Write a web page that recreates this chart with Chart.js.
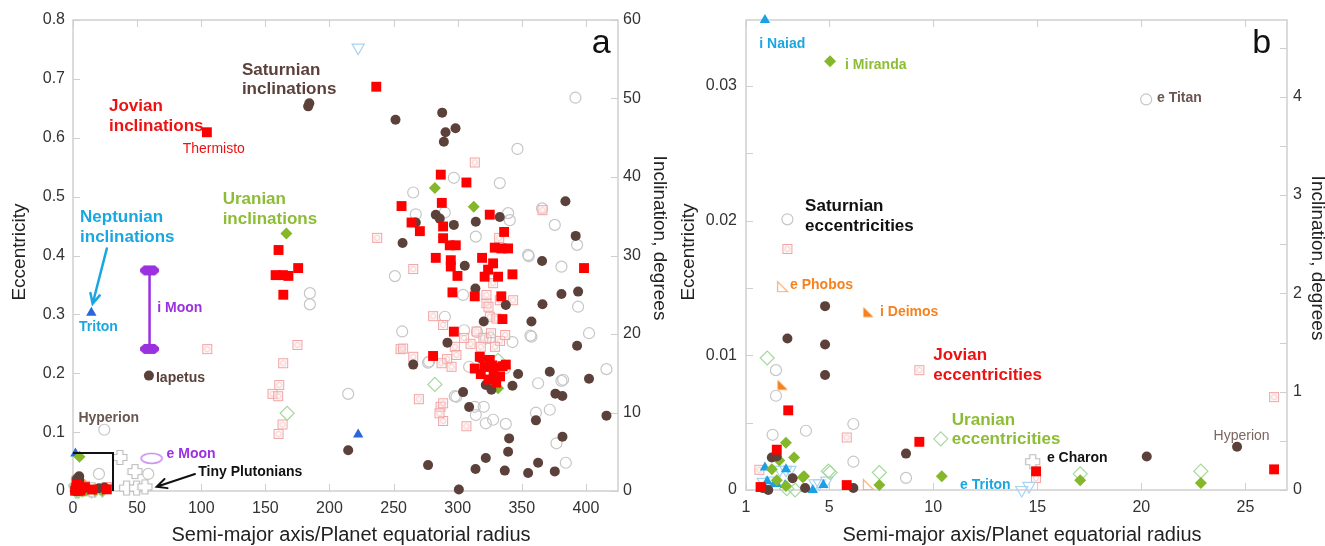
<!DOCTYPE html>
<html>
<head>
<meta charset="utf-8">
<script src="https://cdn.jsdelivr.net/npm/chart.js@4"></script>
<style>
    html, body { margin: 0; padding: 0; background: #fff; }
    #wrap { position: relative; width: 1325px; height: 546px; }
    #chart-a { position: absolute; left: 0; top: 0; }
    #chart-b { position: absolute; left: 680px; top: 0; }
</style>
</head>
<body>
<div id="wrap">
    <canvas id="chart-a" width="680" height="546"></canvas>
    <canvas id="chart-b" width="645" height="546"></canvas>
</div>
<script>
var FONT = "'Liberation Sans', Arial, sans-serif";

// [semi-major axis / planet radius, inclination in degrees]
var jovianIncl = [[104.4,45.7],[236.5,51.5],[160.3,30.7],[175.6,28.4],[158,27.5],[163.7,27.5],[168,27.4],[164,25],
    [286.8,40.3],[306.8,39.3],[256.2,36.3],[287.6,36.7],[325,35.2],[264,34.2],[270.5,33.1],[288.6,33.7],[336.2,33],
    [288.6,32.2],[293.8,31.3],[298.5,31.3],[328.9,31],[334.1,30.9],[339.3,30.9],[282.9,29.7],[294.6,29.4],[294.6,28.6],
    [319,29.7],[327.6,29],[398.5,28.4],[342.7,27.6],[299.8,27.4],[321,27.3],[331.5,27.3],[323.7,28.2],[295.9,25.3],
    [313.3,24.8],[334,24.8],[334.9,21.9],[297,20.3],[280.8,17.2],[317.2,17.1],[325,16.7],[337.5,16.1],[313.3,15.6],
    [321,15.8],[328,15.2],[333,14.6],[324,14.2],[330,13.8],[318,14.9],[335,15.9],[327,16],
    [3.03,0.81],[2.48,0.41],[5.84,0.05],[9.33,0.49],[14.94,0.19],[26.38,0.21],[1.7,0.03]];

// [semi-major axis / planet radius, eccentricity]
var jovianEcc = [[104.7,0.241],[175,0.248],[163.9,0.217],[160.8,0.18],[155.6,0.165],[160,0.161],[163.4,0.113],[160.3,0.097],
    [237.2,0.43],[265.3,0.377],[280.8,0.297],[255.4,0.241],[269.7,0.156],[288.6,0.282],[286.6,0.143],[288.6,0.119],
    [291.7,0.224],[313.3,0.558],[332.3,0.43],[366.1,0.477],[306.8,0.11],[327.6,0.353],[343.2,0.324],[322.4,0.319],
    [297.7,0.245],[299,0.231],[287.4,0.217],[295.2,0.211],[314.7,0.271],[324,0.313],[332.8,0.324],[322.4,0.333],
    [325,0.296],[330.2,0.293],[265.3,0.228],[257.4,0.242],[288.6,0.149],[285.8,0.132],[320,0.26],[326,0.268],
    [333,0.255],[318,0.245],[329,0.245],[337,0.265],[310,0.25],[305,0.26],
    [9.33,0.0089],[5.84,0.0039],[26.38,0.0069],[14.94,0.0009],[1.64,0.0015],[2.99,0.0179]];

var saturnIncl = [[183.4,49],[184.3,49.4],[251.5,47.3],[287.9,48.2],[290.5,45.7],[298.3,46.2],[289.2,44.5],[384,36.9],
    [392,32.5],[257,31.6],[267.3,34.2],[282.9,35.2],[286,34.7],[297,33.9],[314.1,34.3],[332.8,34.9],[305.5,28.7],
    [365.8,29.3],[313.8,25.8],[337.5,23.7],[366.1,23.8],[380.9,25.1],[393.9,25.4],[320.3,21.6],[357.5,21.6],[393.1,18.5],
    [292,18.9],[265.3,16.1],[318,16.9],[328.9,15.8],[328.9,14.2],[321.9,13.5],[326.3,12.9],[347.1,14.9],[342.7,13.4],
    [371.8,15.2],[402.4,14.3],[304.2,12.6],[376.2,12.4],[381.6,12.1],[308.9,10.7],[361,9],[416,9.6],[340.1,6.7],
    [381.7,6.9],[339.3,5],[321.9,4.2],[362.7,3.6],[276.9,3.3],[313.9,2.8],[336.7,2.6],[354.9,2.3],[375.7,2.5],
    [300.9,0.2],[214.6,5.2],[59.2,14.7],
    [4.8,1.87],[4.8,1.48],[4.8,1.17],[2.99,1.54],[8.69,0.37],[6.16,0.02],[3.84,0.02],[3.24,0.12],[2.24,0.33],
    [2.48,0.34],[1.8,0.02],[20.26,0.34],[24.6,0.44],[2.07,0]];

var saturnEcc = [[24.4,0.104],[58.7,0.029],[184.7,0.336],[184.7,0.317],[251,0.365],[214.6,0.165],[256.7,0.271],
    [276.9,0.218],[290,0.296],[297.7,0.161],[265.3,0.507],[267.3,0.47],[297,0.532],[391.8,0.668],[346.6,0.581],
    [332.8,0.523],[289.9,0.473],[339.3,0.472],[340.6,0.46],[365.8,0.48],[375.7,0.452],[314.1,0.432],[393.1,0.418],
    [355.4,0.399],[380.9,0.381],[393.9,0.313],[304.2,0.333],[305,0.273],[321.9,0.259],[342.7,0.253],[356.7,0.264],
    [402.4,0.268],[416,0.207],[380.9,0.187],[362.7,0.183],[277.7,0.22],[308.9,0.211],[336.7,0.208],[299,0.16],
    [320.3,0.143],[314.1,0.129],[371.8,0.138],[361,0.133],[327.6,0.121],[321.9,0.115],[337.5,0.114],[377,0.081],
    [384.3,0.048],[354.9,0.401],[357.5,0.262],[382.2,0.189],[313.3,0.143],[325,0.26],[315,0.27],
    [2.99,0.0201],[2.44,0.0089],[2.44,0.007],[2.28,0.0041],[3.88,0.0044],[6.16,0.0049],[6.16,0.0021],[8.69,0.0009],
    [20.23,0.029]];

var uranusIncl = [[166.4,32.8],[282.2,38.6],[312.5,36.2],[331.5,13.1],
    [5.04,4.36],[2.92,0.48],[3.31,0.33],[3.79,0.14],[2.6,0.3],[2.92,0.04],[7.41,0.05],[10.41,0.14],[17.06,0.1],
    [22.86,0.07],[2.24,0.21],[2.48,0.1],[3.73,0.13]];

var uranusEcc = [[167,0.132],[282.2,0.181],[331.5,0.222],
    [2.02,0.0098],[5.04,0.0013],[7.41,0.0013],[10.36,0.0038],[17.06,0.0012],[22.86,0.0014],[3.36,0],[4.96,0.0014],
    [2.96,0.0001]];

var neptuneIncl = [[14.3,22.7],[222.4,7.2],
    [1.91,4.78],[1.91,0.23],[2.92,0.21],[2.02,0.09],[2.48,0.06],[4.21,0],[4.72,0.05],[2.39,0.07],[2.88,0.05]];

var neptuneEcc = [[222.4,0.753],
    [1.96,0.0003],[2.92,0.0015],[4.52,0.0005],[4.88,0.0007],[14.25,0],[1.83,0.0006],[2.24,0.0007],[2.63,0.0015],
    [3.12,0.0015],[4.32,0.0005],[14.6,0.0003]];

var marsIncl = [[2.76,1.07],[6.88,1.81]];
var marsEcc = [[2.76,0.0151],[6.88,0.0004]];

var plutoEcc = [[36.6,0.057],[48.3,0.033],[41.8,0.005],[49.6,0.005],[56.1,0.007],[14.78,0.0021]];

var moonIncl = [[59.7,18.1],[59.7,28.1]];
var moonEcc = [[61.3,0.0555]];

// axis ticks
var xTicksA = [0, 50, 100, 150, 200, 250, 300, 350, 400];
var eccTicksA = [0, 0.1, 0.2, 0.3, 0.4, 0.5, 0.6, 0.7, 0.8];
var eccLabelsA = ['0', '0.1', '0.2', '0.3', '0.4', '0.5', '0.6', '0.7', '0.8'];
var incTicksA = [0, 10, 20, 30, 40, 50, 60];

var xTicksB = [1, 5, 10, 15, 20, 25];
var eccTicksB = [0, 0.005, 0.01, 0.015, 0.02, 0.025, 0.03];
var eccLabelsB = ['0', '', '0.01', '', '0.02', '', '0.03'];
var incTicksB = [0, 0.5, 1, 1.5, 2, 2.5, 3, 3.5, 4, 4.5];
var incLabelsB = ['0', '', '1', '', '2', '', '3', '', '4', ''];

function pts(arr){
    return arr.map(function(p){ return {x: p[0], y: p[1]}; });
}

function makeMarker(w, h, draw){
    var c = document.createElement('canvas');
    c.width = w;
    c.height = h;
    draw(c.getContext('2d'));
    return c;
}

var pinkBox = makeMarker(12, 12, function(ctx){
    ctx.fillStyle = 'rgba(255,235,235,0.4)';
    ctx.fillRect(1.5, 1.5, 9, 9);
    ctx.strokeStyle = '#f2a4a4';
    ctx.lineWidth = 1;
    ctx.strokeRect(1.5, 1.5, 9, 9);
    ctx.fillStyle = '#f2a4a4';
    for (var k = 0; k < 8; k++) {
        var a = k * Math.PI / 4;
        ctx.fillRect(6 + 2.6 * Math.cos(a) - 0.5, 6 + 2.6 * Math.sin(a) - 0.5, 1, 1);
    }
});

var plutoCross = makeMarker(17, 17, function(ctx){
    var p = [[5.5,1.5],[11.5,1.5],[11.5,5.5],[15.5,5.5],[15.5,11.5],[11.5,11.5],[11.5,15.5],[5.5,15.5],[5.5,11.5],[1.5,11.5],[1.5,5.5],[5.5,5.5]];
    ctx.beginPath();
    ctx.moveTo(p[0][0], p[0][1]);
    for (var i = 1; i < p.length; i++) ctx.lineTo(p[i][0], p[i][1]);
    ctx.closePath();
    ctx.fillStyle = '#fff';
    ctx.fill();
    ctx.strokeStyle = '#bdbdbd';
    ctx.lineWidth = 1.2;
    ctx.stroke();
});

var moonCap = makeMarker(21, 12, function(ctx){
    ctx.beginPath();
    ctx.moveTo(5, 1); ctx.lineTo(16, 1); ctx.lineTo(20, 4.5); ctx.lineTo(20, 7.5);
    ctx.lineTo(16, 11); ctx.lineTo(5, 11); ctx.lineTo(1, 7.5); ctx.lineTo(1, 4.5);
    ctx.closePath();
    ctx.fillStyle = '#9b30e0';
    ctx.fill();
});

var moonRing = makeMarker(24, 13, function(ctx){
    ctx.beginPath();
    ctx.ellipse(12, 6.5, 10.5, 5, 0, 0, Math.PI * 2);
    ctx.strokeStyle = '#c58af0';
    ctx.lineWidth = 1.5;
    ctx.stroke();
});

function marsMarker(filled){
    return makeMarker(13, 13, function(ctx){
        ctx.beginPath();
        ctx.moveTo(1.5, 1.5); ctx.lineTo(1.5, 11.5); ctx.lineTo(11.5, 11.5);
        ctx.closePath();
        if (filled) {
            ctx.fillStyle = '#f5821f';
            ctx.fill();
        } else {
            ctx.strokeStyle = '#f6b07a';
            ctx.lineWidth = 1.2;
            ctx.stroke();
        }
    });
}
var marsFilled = marsMarker(true);
var marsOpen = marsMarker(false);

// panel a draws the Neptunian triangles a deeper blue than panel b
function neptuneBlue(c){
    return c.chart.canvas.id === 'chart-a' ? '#2a66dc' : '#1aa0e6';
}

function buildDatasets(){
    return [
        {label: 'Jovian inclinations', data: pts(jovianIncl), yAxisID: 'y2', pointStyle: 'rect', pointRadius: 7,
            pointBackgroundColor: '#ff0000', pointBorderWidth: 0},
        {label: 'Saturnian inclinations', data: pts(saturnIncl), yAxisID: 'y2', pointStyle: 'circle', pointRadius: 5,
            pointBackgroundColor: '#5b4139', pointBorderWidth: 0},
        {label: 'Uranian inclinations', data: pts(uranusIncl), yAxisID: 'y2', pointStyle: 'rectRot', pointRadius: 6,
            pointBackgroundColor: '#84b82a', pointBorderWidth: 0},
        {label: 'Neptunian inclinations', data: pts(neptuneIncl), yAxisID: 'y2', pointStyle: 'triangle', pointRadius: 6,
            pointBackgroundColor: neptuneBlue, pointBorderWidth: 0},
        {label: 'Martian inclinations', data: pts(marsIncl), yAxisID: 'y2', pointStyle: marsFilled},
        {label: 'Martian eccentricities', data: pts(marsEcc), yAxisID: 'y', pointStyle: marsOpen},
        {label: 'Moon inclination', type: 'line', showLine: true, data: pts(moonIncl), yAxisID: 'y2',
            borderColor: '#9b30e0', borderWidth: 2.5, pointStyle: moonCap},
        {label: 'Moon eccentricity', data: pts(moonEcc), yAxisID: 'y', pointStyle: moonRing},
        {label: 'Plutonian eccentricities', data: pts(plutoEcc), yAxisID: 'y', pointStyle: plutoCross},
        {label: 'Uranian eccentricities', data: pts(uranusEcc), yAxisID: 'y', pointStyle: 'rectRot', pointRadius: 7,
            pointBackgroundColor: 'rgba(255,255,255,0)', pointBorderColor: '#a6d89e', pointBorderWidth: 1.2},
        {label: 'Neptunian eccentricities', data: pts(neptuneEcc), yAxisID: 'y', pointStyle: 'triangle', pointRadius: 7,
            pointRotation: 180, pointBackgroundColor: 'rgba(255,255,255,0)', pointBorderColor: '#a9d3f2', pointBorderWidth: 1.2},
        {label: 'Jovian eccentricities', data: pts(jovianEcc), yAxisID: 'y', pointStyle: pinkBox},
        {label: 'Saturnian eccentricities', data: pts(saturnEcc), yAxisID: 'y', pointStyle: 'circle', pointRadius: 5.5,
            pointBackgroundColor: 'rgba(255,255,255,0)', pointBorderColor: '#c6c6c6', pointBorderWidth: 1.2}
    ].map(function(d){
        d.clip = 10;
        return d;
    });
}

function tickedAxis(opts){
    return {
        type: 'linear',
        position: opts.position,
        min: opts.min,
        max: opts.max,
        afterFit: function(s){
            if (s.isHorizontal()) s.height = opts.size; else s.width = opts.size;
        },
        afterBuildTicks: function(s){
            s.ticks = opts.ticks.map(function(v){ return {value: v}; });
        },
        grid: {display: false, drawTicks: false},
        border: {display: false},
        ticks: {
            padding: opts.padding,
            autoSkip: false,
            maxRotation: 0,
            color: '#333',
            font: {size: 16, family: FONT},
            callback: function(value, index){
                return opts.labels ? opts.labels[index] : String(value);
            }
        }
    };
}

function drawText(ctx, chart, l){
    var px = chart.scales.x.getPixelForValue(l.x);
    var py = chart.scales[l.axis || 'y'].getPixelForValue(l.y);
    ctx.font = (l.bold === false ? '' : 'bold ') + (l.size || 14) + 'px ' + FONT;
    ctx.fillStyle = l.color;
    ctx.textAlign = 'left';
    ctx.textBaseline = l.baseline || 'middle';
    l.text.split('\n').forEach(function(t, i){
        ctx.fillText(t, px, py + i * (l.lh || 20));
    });
}

function drawArrow(ctx, chart, a){
    var xs = chart.scales.x, ys = chart.scales.y;
    var x0 = xs.getPixelForValue(a.from[0]), y0 = ys.getPixelForValue(a.from[1]);
    var x1 = xs.getPixelForValue(a.to[0]), y1 = ys.getPixelForValue(a.to[1]);
    var ang = Math.atan2(y1 - y0, x1 - x0);
    ctx.strokeStyle = a.color;
    ctx.lineWidth = a.width;
    ctx.lineCap = 'round';
    ctx.beginPath();
    ctx.moveTo(x0, y0);
    ctx.lineTo(x1, y1);
    ctx.moveTo(x1 - 11 * Math.cos(ang - 0.45), y1 - 11 * Math.sin(ang - 0.45));
    ctx.lineTo(x1, y1);
    ctx.lineTo(x1 - 11 * Math.cos(ang + 0.45), y1 - 11 * Math.sin(ang + 0.45));
    ctx.stroke();
}

var decorPlugin = {
    id: 'decor',
    beforeDatasetsDraw: function(chart){
        var ctx = chart.ctx, area = chart.chartArea, len = 7;
        ctx.save();
        ctx.strokeStyle = '#cfcfcf';
        ctx.lineWidth = 1.5;
        ctx.strokeRect(area.left, area.top, area.right - area.left, area.bottom - area.top);
        ctx.lineWidth = 1;
        ctx.beginPath();
        chart.scales.x.ticks.forEach(function(t){
            var p = Math.round(chart.scales.x.getPixelForValue(t.value)) + 0.5;
            ctx.moveTo(p, area.bottom); ctx.lineTo(p, area.bottom - len);
            ctx.moveTo(p, area.top); ctx.lineTo(p, area.top + len);
        });
        chart.scales.y.ticks.forEach(function(t){
            var p = Math.round(chart.scales.y.getPixelForValue(t.value)) + 0.5;
            ctx.moveTo(area.left, p); ctx.lineTo(area.left + len, p);
        });
        chart.scales.y2.ticks.forEach(function(t){
            var p = Math.round(chart.scales.y2.getPixelForValue(t.value)) + 0.5;
            ctx.moveTo(area.right, p); ctx.lineTo(area.right - len, p);
        });
        ctx.stroke();
        ctx.restore();
    },
    afterDatasetsDraw: function(chart, args, opts){
        var ctx = chart.ctx;
        ctx.save();
        if (opts.box) {
            var xs = chart.scales.x, ys = chart.scales.y;
            var bx = xs.getPixelForValue(opts.box[0]), by = ys.getPixelForValue(opts.box[1]);
            ctx.strokeStyle = '#111';
            ctx.lineWidth = 2;
            ctx.beginPath();
            ctx.moveTo(chart.chartArea.left, by);
            ctx.lineTo(bx, by);
            ctx.lineTo(bx, chart.chartArea.bottom);
            ctx.stroke();
        }
        (opts.arrows || []).forEach(function(a){ drawArrow(ctx, chart, a); });
        (opts.labels || []).forEach(function(l){ drawText(ctx, chart, l); });
        ctx.restore();
    },
    afterDraw: function(chart, args, opts){
        var ctx = chart.ctx, t = opts.titles;
        ctx.save();
        ctx.fillStyle = '#222';
        ctx.textAlign = 'center';
        ctx.textBaseline = 'alphabetic';
        ctx.font = '20px ' + FONT;
        ctx.fillText('Semi-major axis/Planet equatorial radius', t.bottomX, 541);
        ctx.font = '19px ' + FONT;
        ctx.save();
        ctx.translate(t.leftX, t.leftY);
        ctx.rotate(-Math.PI / 2);
        ctx.fillText('Eccentricity', 0, 0);
        ctx.restore();
        ctx.translate(t.rightX, t.rightY);
        ctx.rotate(Math.PI / 2);
        ctx.fillText('Inclination, degrees', 0, 0);
        ctx.restore();
    }
};

function baseOptions(scales, decor){
    return {
        responsive: false,
        animation: false,
        devicePixelRatio: 1,
        layout: {padding: {top: 20, left: 0, right: 0, bottom: 0}},
        scales: scales,
        elements: {point: {hoverRadius: 0}},
        plugins: {
            legend: {display: false},
            tooltip: {enabled: false},
            decor: decor
        }
    };
}

function panelA(){
    var scales = {
        x: tickedAxis({position: 'bottom', min: 0, max: 425, size: 55, ticks: xTicksA, padding: 8}),
        y: tickedAxis({position: 'left', min: 0, max: 0.8, size: 73, ticks: eccTicksA, labels: eccLabelsA, padding: 8}),
        y2: tickedAxis({position: 'right', min: 0, max: 60, size: 62, ticks: incTicksA, padding: 5})
    };
    var decor = {
        titles: {bottomX: 351, leftX: 25, leftY: 252, rightX: 654, rightY: 238},
        box: [31.2, 0.0645],
        arrows: [
            {from: [26.4, 0.412], to: [15.3, 0.318], color: '#1aa7e1', width: 2.5},
            {from: [95.1, 0.0289], to: [65.2, 0.0073], color: '#111', width: 2}
        ],
        labels: [
            {x: 131.7, y: 0.715, text: 'Saturnian\ninclinations', color: '#5b4139', size: 17, lh: 19},
            {x: 28.1, y: 0.654, text: 'Jovian\ninclinations', color: '#ee1111', size: 17},
            {x: 85.5, y: 0.581, text: 'Thermisto', color: '#ee1111', size: 14, bold: false},
            {x: 116.7, y: 0.496, text: 'Uranian\ninclinations', color: '#8cbd35', size: 17},
            {x: 5.5, y: 0.465, text: 'Neptunian\ninclinations', color: '#1aa7e1', size: 17},
            {x: 4.7, y: 0.279, text: 'Triton', color: '#1aa7e1', size: 14},
            {x: 65.7, y: 0.311, text: 'i Moon', color: '#9b30e0', size: 14},
            {x: 64.7, y: 0.191, text: 'Iapetus', color: '#5b4139', size: 14},
            {x: 4.2, y: 0.1245, text: 'Hyperion', color: '#6b5550', size: 14},
            {x: 73, y: 0.0623, text: 'e Moon', color: '#9b30e0', size: 14},
            {x: 97.7, y: 0.0318, text: 'Tiny Plutonians', color: '#111', size: 14},
            {x: 404.5, y: 0.744, text: 'a', color: '#111', size: 34, bold: false, baseline: 'alphabetic'}
        ]
    };
    return new Chart(document.getElementById('chart-a').getContext('2d'), {
        type: 'scatter',
        data: {datasets: buildDatasets()},
        options: baseOptions(scales, decor),
        plugins: [decorPlugin]
    });
}

function panelB(){
    var scales = {
        x: tickedAxis({position: 'bottom', min: 1, max: 27, size: 56, ticks: xTicksB, padding: 8}),
        y: tickedAxis({position: 'left', min: 0, max: 0.0349, size: 66, ticks: eccTicksB, labels: eccLabelsB, padding: 9}),
        y2: tickedAxis({position: 'right', min: 0, max: 4.78, size: 38, ticks: incTicksB, labels: incLabelsB, padding: 6})
    };
    var decor = {
        titles: {bottomX: 342, leftX: 14, leftY: 252, rightX: 632, rightY: 258},
        labels: [
            {x: 1.64, y: 0.0331, text: 'i Naiad', color: '#1aa7e1', size: 14},
            {x: 5.76, y: 0.03156, text: 'i Miranda', color: '#8cbd35', size: 14},
            {x: 20.75, y: 0.02909, text: 'e Titan', color: '#6b5550', size: 14},
            {x: 3.84, y: 0.02104, text: 'Saturnian\neccentricities', color: '#111', size: 17},
            {x: 3.115, y: 0.01522, text: 'e Phobos', color: '#f5821f', size: 14},
            {x: 7.44, y: 0.01317, text: 'i Deimos', color: '#f5821f', size: 14},
            {x: 10.0, y: 0.01002, text: 'Jovian\neccentricities', color: '#ee1111', size: 17},
            {x: 10.89, y: 0.0052, text: 'Uranian\neccentricities', color: '#8cbd35', size: 17, lh: 19},
            {x: 15.46, y: 0.00235, text: 'e Charon', color: '#111', size: 14},
            {x: 11.29, y: 0.00037, text: 'e Triton', color: '#1aa7e1', size: 14},
            {x: 23.47, y: 0.00403, text: 'Hyperion', color: '#7b6660', size: 14, bold: false},
            {x: 25.33, y: 0.03245, text: 'b', color: '#111', size: 34, bold: false, baseline: 'alphabetic'}
        ]
    };
    return new Chart(document.getElementById('chart-b').getContext('2d'), {
        type: 'scatter',
        data: {datasets: buildDatasets()},
        options: baseOptions(scales, decor),
        plugins: [decorPlugin]
    });
}

Chart.defaults.font.family = FONT;
panelA();
panelB();
</script>
</body>
</html>
